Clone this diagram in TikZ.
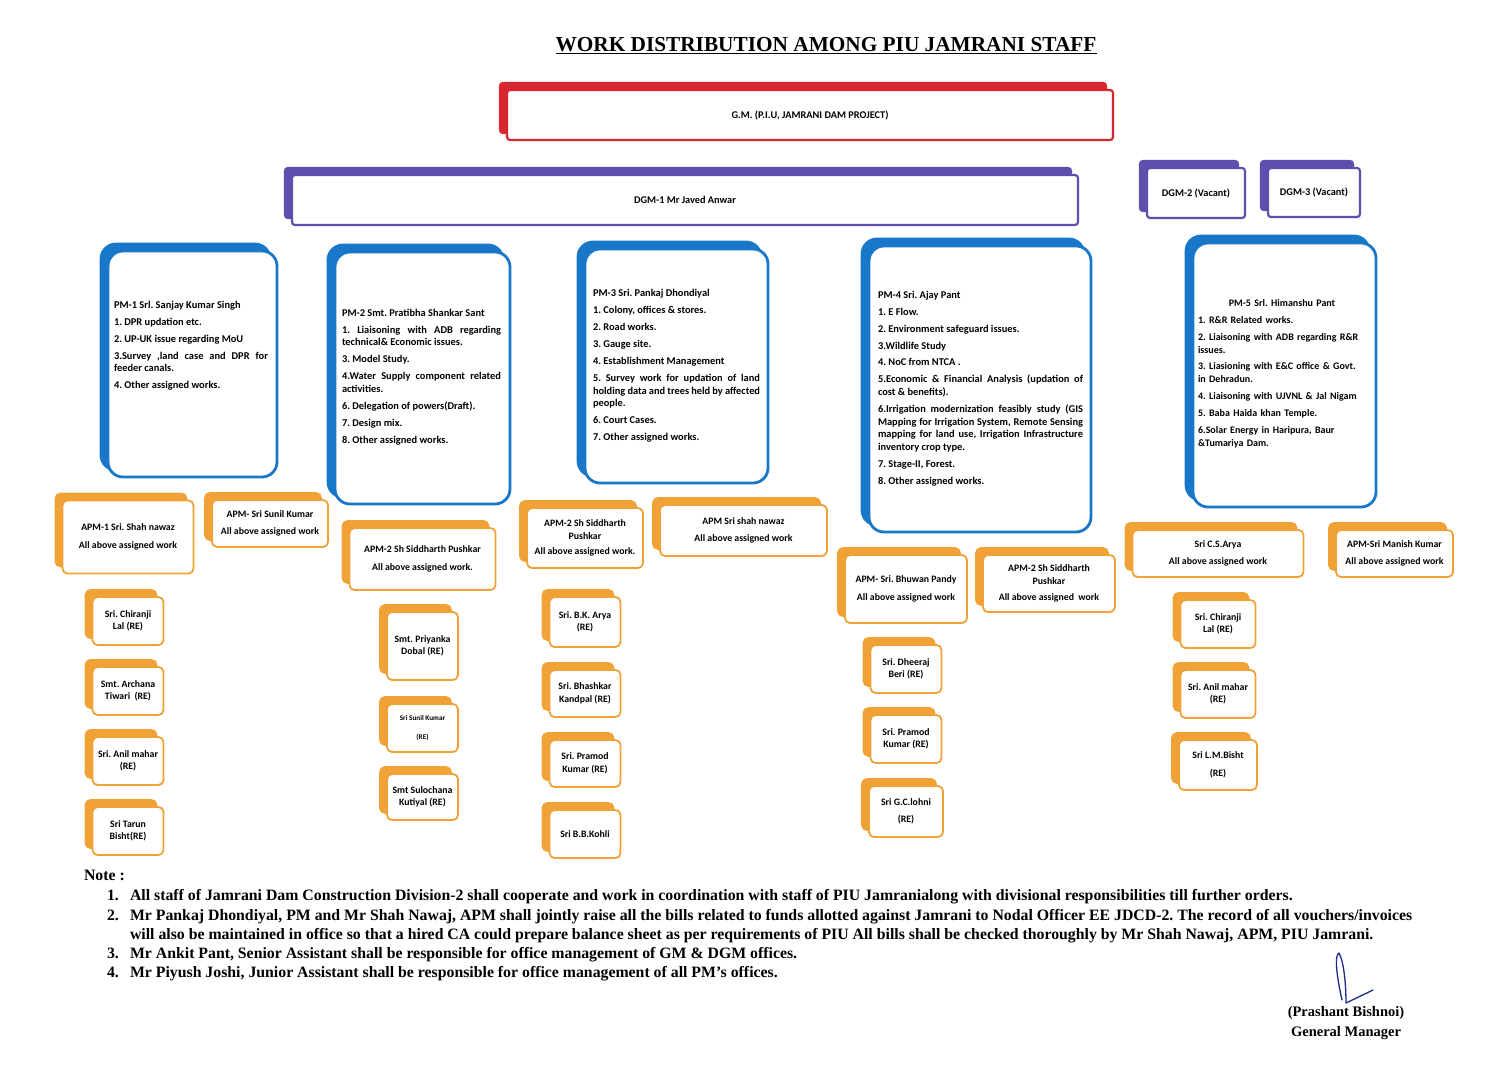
\documentclass[tikz,border=0pt]{standalone}
\usepackage{fontspec}
\setmainfont{Liberation Serif}
\newfontfamily\bxf{Carlito}
\usetikzlibrary{shadows,backgrounds,calc}
\definecolor{gmred}{HTML}{D8262E}
\definecolor{dgmpur}{HTML}{5E4FAE}
\definecolor{pmblue}{HTML}{1877C9}
\definecolor{apmorg}{HTML}{F1A237}
\definecolor{sigblue}{HTML}{1E2A8A}
\frenchspacing
\begin{document}
\begin{tikzpicture}[x=1pt,y=-1pt,
  every node/.style={inner sep=0pt,outer sep=0pt},
  card/.style={draw=#1,fill=white,copy shadow={shadow xshift=-7pt,shadow yshift=7pt,fill=#1,draw=#1}},
  gmbox/.style={card=gmred,line width=2.2pt,rounded corners=3pt,font=\bxf\bfseries\fontsize{10.3}{12}\selectfont,align=center},
  dgmbox/.style={card=dgmpur,line width=2.2pt,rounded corners=3pt,font=\bxf\bfseries\fontsize{10.3}{12}\selectfont,align=center},
  pmbox/.style={card=pmblue,line width=2.8pt,rounded corners=15pt},
  obox/.style={card=apmorg,line width=1.8pt,rounded corners=5pt,font=\bxf\bfseries\fontsize{9.8}{12.5}\selectfont,align=center},
  sbox/.style={obox,minimum width=71pt,minimum height=48pt},
  pmtxt/.style={anchor=north west,font=\bxf\bfseries\fontsize{10.4}{12.7}\selectfont,align=justify,
     execute at begin node={\frenchspacing\parskip=4.2pt\parindent=0pt\hyphenpenalty=10000\exhyphenpenalty=10000\tolerance=9999\emergencystretch=20pt}},
  notef/.style={anchor=base west,font=\bfseries\fontsize{15.8}{18}\selectfont},
  pur/.style={draw=dgmpur,line width=2pt},
  blu/.style={draw=pmblue,line width=2pt},
  org/.style={draw=apmorg,line width=2pt}]
\useasboundingbox[fill=white] (0,0) rectangle (1500,1082);

% title
\node[font=\bfseries\fontsize{21.3}{25}\selectfont] (title) at (826,46) {\underline{WORK DISTRIBUTION AMONG PIU JAMRANI STAFF}};

% GM and DGMs
\node[gmbox,minimum width=606pt,minimum height=50pt] (gm) at (810,115) {G.M. (P.I.U, JAMRANI DAM PROJECT)};
\node[dgmbox,minimum width=786pt,minimum height=50pt] (dgm1) at (685,200) {DGM-1 Mr Javed Anwar};
\node[dgmbox,minimum width=98pt,minimum height=50pt] (dgm2) at (1196,193) {DGM-2 (Vacant)};
\node[dgmbox,minimum width=92pt,minimum height=49pt] (dgm3) at (1314,192.5) {DGM-3 (Vacant)};

% PM boxes
\node[pmbox,minimum width=169pt,minimum height=226pt] (pm1) at (192.5,364) {};
\node[pmbox,minimum width=175pt,minimum height=252pt] (pm2) at (422.5,378) {};
\node[pmbox,minimum width=183pt,minimum height=234pt] (pm3) at (676.5,366) {};
\node[pmbox,minimum width=222pt,minimum height=286pt] (pm4) at (980,389) {};
\node[pmbox,minimum width=183pt,minimum height=264pt] (pm5) at (1284.5,375) {};

\node[pmtxt,text width=154pt] (pm1t) at (114,301) {PM-1 Srl. Sanjay Kumar Singh\par
1. DPR updation etc.\par
2. UP-UK issue regarding MoU\par
3.Survey ,land case and DPR for feeder canals.\par
4. Other assigned works.};

\node[pmtxt,text width=159pt] (pm2t) at (342,309) {PM-2 Smt. Pratibha Shankar Sant\par
1. Liaisoning with ADB regarding technical\& Economic issues.\par
3. Model Study.\par
4.Water Supply component related activities.\par
6. Delegation of powers(Draft).\par
7. Design mix.\par
8. Other assigned works.};

\node[pmtxt,text width=167pt] (pm3t) at (593,289.5) {PM-3 Sri. Pankaj Dhondiyal\par
1. Colony, offices \& stores.\par
2. Road works.\par
3. Gauge site.\par
4. Establishment Management\par
5. Survey work for updation of land holding data and trees held by affected people.\par
6. Court Cases.\par
7. Other assigned works.};

\node[pmtxt,text width=205pt] (pm4t) at (878,291) {PM-4 Sri. Ajay Pant\par
1. E Flow.\par
2. Environment safeguard issues.\par
3.Wildlife Study\par
4. NoC from NTCA .\par
5.Economic \& Financial Analysis (updation of cost \& benefits).\par
6.Irrigation modernization feasibly study (GIS Mapping for Irrigation System, Remote Sensing mapping for land use, Irrigation Infrastructure inventory crop type.\par
7. Stage-II, Forest.\par
8. Other assigned works.};

\node[pmtxt,text width=168pt,align=left,font=\bxf\bfseries\fontsize{10}{12.7}\selectfont] (pm5t) at (1198,299.5) {{\centering PM-5 Srl. Himanshu Pant\par}
1. R\&R Related works.\par
2. Liaisoning with ADB regarding R\&R issues.\par
3. Liasioning with E\&C office \& Govt. in Dehradun.\par
4. Liaisoning with UJVNL \& Jal Nigam\par
5. Baba Haida khan Temple.\par
6.Solar Energy in Haripura, Baur \&Tumariya Dam.};

% PM-1 group
\node[obox,minimum width=131pt,minimum height=73pt] (a11) at (128,537) {APM-1 Sri. Shah nawaz\\[5pt]All above assigned work};
\node[obox,minimum width=116pt,minimum height=47pt] (a12) at (270,523.5) {APM- Sri Sunil Kumar\\[4pt]All above assigned work};
\node[sbox] (c11) at (128,621) {Sri. Chiranji\\Lal (RE)};
\node[sbox] (c12) at (128,691) {Smt. Archana\\Tiwari~~(RE)};
\node[sbox] (c13) at (128,761) {Sri. Anil mahar\\(RE)};
\node[sbox] (c14) at (128,831) {Sri Tarun\\Bisht(RE)};

% PM-2 group
\node[obox,minimum width=146pt,minimum height=62pt] (a21) at (422.5,559) {APM-2 Sh Siddharth Pushkar\\[5pt]All above assigned work.};
\node[sbox,minimum height=68pt] (c21) at (422.5,646) {Smt. Priyanka\\Dobal (RE)};
\node[sbox] (c22) at (422.5,728) {\fontsize{7.2}{8}\selectfont Sri Sunil Kumar\\[7pt]\fontsize{7.2}{8}\selectfont(RE)};
\node[sbox,minimum height=46pt] (c23) at (422.5,797) {Smt Sulochana\\Kutiyal (RE)};

% PM-3 group
\node[obox,minimum width=116pt,minimum height=60pt] (a31) at (585,538) {APM-2 Sh Siddharth\\Pushkar\\[3pt]All above assigned work.};
\node[obox,minimum width=167pt,minimum height=51pt] (a32) at (743.5,530.5) {APM Sri shah nawaz\\[5pt]All above assigned work};
\node[sbox,minimum height=50pt] (c31) at (585,622) {Sri. B.K. Arya\\(RE)};
\node[sbox,minimum height=47pt] (c32) at (585,693.5) {Sri. Bhashkar\\Kandpal (RE)};
\node[sbox,minimum height=47pt] (c33) at (585,763.5) {Sri. Pramod\\Kumar (RE)};
\node[sbox,minimum height=48pt] (c34) at (585,834) {Sri B.B.Kohli};

% PM-4 group
\node[obox,minimum width=122pt,minimum height=68pt] (a41) at (906,589) {APM- Sri. Bhuwan Pandy\\[5pt]All above assigned work};
\node[obox,minimum width=132pt,minimum height=57pt] (a42) at (1049,583.5) {APM-2 Sh Siddharth\\Pushkar\\[4pt]All above assigned~ work};
\node[sbox] (c41) at (906,669) {Sri. Dheeraj\\Beri (RE)};
\node[sbox] (c42) at (906,739) {Sri. Pramod\\Kumar (RE)};
\node[sbox,minimum width=74pt,minimum height=51pt] (c43) at (906,811.5) {Sri G.C.lohni\\[5pt](RE)};

% PM-5 group
\node[obox,minimum width=171pt,minimum height=47pt] (a51) at (1218,553.5) {Sri C.S.Arya\\[4pt]All above assigned work};
\node[obox,minimum width=117pt,minimum height=47pt] (a52) at (1394.5,553.5) {APM-Sri Manish Kumar\\[4pt]All above assigned work};
\node[sbox,minimum width=75pt] (c51) at (1218,624) {Sri. Chiranji\\Lal (RE)};
\node[sbox,minimum width=75pt] (c52) at (1218,694) {Sri. Anil mahar\\(RE)};
\node[sbox,minimum width=78pt,minimum height=50pt] (c53) at (1218,765) {Sri L.M.Bisht\\[5pt](RE)};

% connectors (behind the boxes)
\begin{scope}[on background layer]
\coordinate (pb) at (0,155);
\coordinate (bb) at (0,232);
\path ($(gm.south)+(-10,0)$) coordinate (gmb)
      ($(dgm1.north)+(-9,0)$) coordinate (d1t)
      ($(dgm2.north)+(4,0)$) coordinate (d2t)
      ($(dgm3.north)+(-6,0)$) coordinate (d3t)
      ($(dgm1.south)+(-5,0)$) coordinate (d1b);
\draw[pur] (gmb) -- (gmb |- pb);
\draw[pur] (d1t |- pb) -- (d3t |- pb);
\draw[pur] (d1t |- pb) -- (d1t);
\draw[pur] (d2t |- pb) -- (d2t);
\draw[pur] (d3t |- pb) -- (d3t);
\path ($(pm1.north)+(-8,0)$) coordinate (p1t)
      ($(pm2.north)+(-9,0)$) coordinate (p2t)
      ($(pm3.north)+(-7,0)$) coordinate (p3t)
      ($(pm4.north)+(-7,0)$) coordinate (p4t)
      ($(pm5.north)+(-6,0)$) coordinate (p5t);
\draw[blu] (d1b) -- (d1b |- bb);
\draw[blu] (p1t |- bb) -- (p5t |- bb);
\foreach \p in {p1t,p2t,p3t,p4t,p5t} \draw[blu] (\p |- bb) -- (\p);

% orange forks
\coordinate (ob1) at (0,487);
\coordinate (ob3) at (0,490);
\coordinate (ob4) at (0,538);
\coordinate (ob5) at (0,515);
\path ($(pm1.south)+(-6,0)$) coordinate (p1b)
      ($(pm3.south)+(-6,0)$) coordinate (p3b)
      ($(pm4.south)+(-6,0)$) coordinate (p4b)
      ($(pm5.south)+(-6,0)$) coordinate (p5b)
      ($(a11.north)+(-7,0)$) coordinate (a11t)
      ($(a12.north)+(-8,0)$) coordinate (a12t)
      ($(a31.north)+(-8,0)$) coordinate (a31t)
      ($(a32.north)+(-8,0)$) coordinate (a32t)
      ($(a41.north)+(-8,0)$) coordinate (a41t)
      ($(a42.north)+(0,0)$) coordinate (a42t)
      ($(a51.north)+(-7,0)$) coordinate (a51t)
      ($(a52.north)+(-4,0)$) coordinate (a52t);
\draw[org] (p1b) -- (p1b |- ob1);
\draw[org] (a11t |- ob1) -- (a12t |- ob1);
\draw[org] (a11t |- ob1) -- (a11t);
\draw[org] (a12t |- ob1) -- (a12t);
\draw[org] (p3b) -- (p3b |- ob3);
\draw[org] (a31t |- ob3) -- (a32t |- ob3);
\draw[org] (a31t |- ob3) -- (a31t);
\draw[org] (a32t |- ob3) -- (a32t);
\draw[org] (p4b) -- (p4b |- ob4);
\draw[org] (a41t |- ob4) -- (a42t |- ob4);
\draw[org] (a41t |- ob4) -- (a41t);
\draw[org] (a42t |- ob4) -- (a42t);
\draw[org] (p5b) -- (p5b |- ob5);
\draw[org] (a51t |- ob5) -- (a52t |- ob5);
\draw[org] (a51t |- ob5) -- (a51t);
\draw[org] (a52t |- ob5) -- (a52t);
\draw[org] ($(pm2.south)+(-7,0)$) -- ($(a21.north)+(-7,0)$);
% chains
\foreach \a/\b in {a11/c11,c11/c12,c12/c13,c13/c14,
                   a21/c21,c21/c22,c22/c23,
                   a31/c31,c31/c32,c32/c33,c33/c34,
                   a41/c41,c41/c42,c42/c43,
                   a51/c51,c51/c52,c52/c53}
  \draw[org] ($(\a.south)+(-7,0)$) -- ($(\b.north)+(-7,0)$);
\end{scope}

% notes
\node[notef] (note) at (84,880) {Note :};
\node[notef] (n1) at (107,900) {1.};
\node[notef] (n1t) at (130,900) {All staff of Jamrani Dam Construction Division-2 shall cooperate and work in coordination with staff of PIU Jamranialong with divisional responsibilities till further orders.};
\node[notef] (n2) at (107,920) {2.};
\node[notef] (n2t) at (130,920) {Mr Pankaj Dhondiyal, PM and Mr Shah Nawaj, APM shall jointly raise all the bills related to funds allotted against Jamrani to Nodal Officer EE JDCD-2. The record of all vouchers/invoices};
\node[notef] (n2u) at (130,939) {will also be maintained in office so that a hired CA could prepare balance sheet as per requirements of PIU All bills shall be checked thoroughly by Mr Shah Nawaj, APM, PIU Jamrani.};
\node[notef] (n3) at (107,958) {3.};
\node[notef] (n3t) at (130,958) {Mr Ankit Pant, Senior Assistant shall be responsible for office management of GM \& DGM offices.};
\node[notef] (n4) at (107,977) {4.};
\node[notef] (n4t) at (130,977) {Mr Piyush Joshi, Junior Assistant shall be responsible for office management of all PM’s offices.};

% signature
\draw[sigblue,line width=1.3pt,line cap=round,line join=round]
  (1342,1000) .. controls (1337,978) and (1334,955) .. (1339,953)
  .. controls (1344,962) and (1346,985) .. (1346,1003) -- (1373,990);
\node[font=\bfseries\fontsize{14.5}{17}\selectfont] (sign1) at (1346,1013) {(Prashant Bishnoi)};
\node[font=\bfseries\fontsize{14.5}{17}\selectfont] (sign2) at (1346,1033) {General Manager};
\end{tikzpicture}
\end{document}
